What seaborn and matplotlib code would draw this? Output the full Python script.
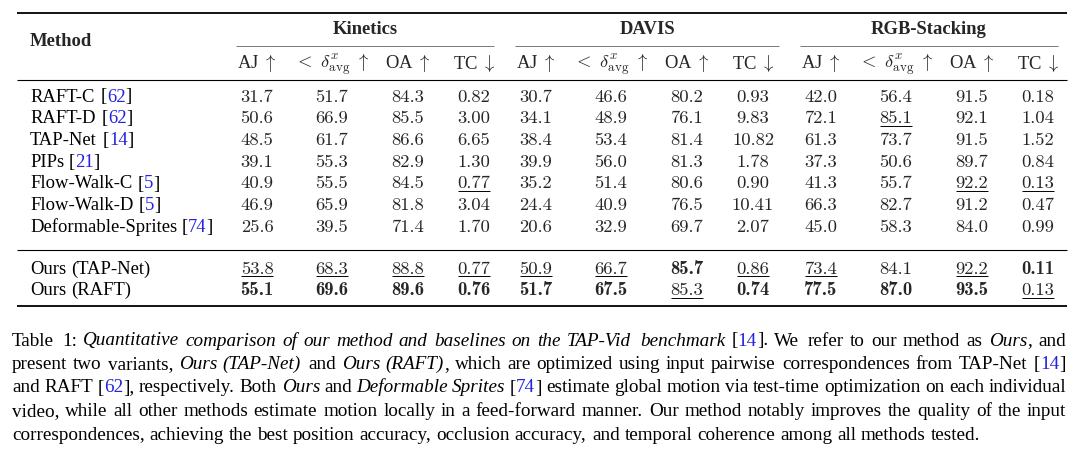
import numpy as np
import pandas as pd
import seaborn as sns
import matplotlib
matplotlib.use("Agg")
import matplotlib.pyplot as plt
from matplotlib.font_manager import FontProperties, findfont, get_font

# ---------------- data ----------------
methods = ["RAFT-C", "RAFT-D", "TAP-Net", "PIPs", "Flow-Walk-C", "Flow-Walk-D",
           "Deformable-Sprites", "Ours (TAP-Net)", "Ours (RAFT)"]
cites = ["62", "62", "14", "21", "5", "5", "74", None, None]
datasets = ["Kinetics", "DAVIS", "RGB-Stacking"]
metric_labels = ["AJ $\\uparrow$", "$<\\ \\delta^{x}_{\\mathrm{avg}}\\ \\uparrow$",
                 "OA $\\uparrow$", "TC $\\downarrow$"]
metric_higher_better = [True, True, True, False]
metric_fmt = ["{:.1f}", "{:.1f}", "{:.1f}", "{:.2f}"]

kinetics_aj = [31.7, 50.6, 48.5, 39.1, 40.9, 46.9, 25.6, 53.8, 55.1]
kinetics_delta = [51.7, 66.9, 61.7, 55.3, 55.5, 65.9, 39.5, 68.3, 69.6]
kinetics_oa = [84.3, 85.5, 86.6, 82.9, 84.5, 81.8, 71.4, 88.8, 89.6]
kinetics_tc = [0.82, 3.00, 6.65, 1.30, 0.77, 3.04, 1.70, 0.77, 0.76]

davis_aj = [30.7, 34.1, 38.4, 39.9, 35.2, 24.4, 20.6, 50.9, 51.7]
davis_delta = [46.6, 48.9, 53.4, 56.0, 51.4, 40.9, 32.9, 66.7, 67.5]
davis_oa = [80.2, 76.1, 81.4, 81.3, 80.6, 76.5, 69.7, 85.7, 85.3]
davis_tc = [0.93, 9.83, 10.82, 1.78, 0.90, 10.41, 2.07, 0.86, 0.74]

rgb_aj = [42.0, 72.1, 61.3, 37.3, 41.3, 66.3, 45.0, 73.4, 77.5]
rgb_delta = [56.4, 85.1, 73.7, 50.6, 55.7, 82.7, 58.3, 84.1, 87.0]
rgb_oa = [91.5, 92.1, 91.5, 89.7, 92.2, 91.2, 84.0, 92.2, 93.5]
rgb_tc = [0.18, 1.04, 1.52, 0.84, 0.13, 0.47, 0.99, 0.11, 0.13]

table = {
    "Kinetics": [kinetics_aj, kinetics_delta, kinetics_oa, kinetics_tc],
    "DAVIS": [davis_aj, davis_delta, davis_oa, davis_tc],
    "RGB-Stacking": [rgb_aj, rgb_delta, rgb_oa, rgb_tc],
}

caption_lines = [
    "Table 1: *Quantitative comparison of our method and baselines on the TAP-Vid benchmark* [{14}]. We refer to our method as *Ours*, and",
    "present two variants, *Ours (TAP-Net)* and *Ours (RAFT)*, which are optimized using input pairwise correspondences from TAP-Net [{14}]",
    "and RAFT [{62}], respectively. Both *Ours* and *Deformable Sprites* [{74}] estimate global motion via test-time optimization on each individual",
    "video, while all other methods estimate motion locally in a feed-forward manner. Our method notably improves the quality of the input",
    "correspondences, achieving the best position accuracy, occlusion accuracy, and temporal coherence among all methods tested.",
]

# ---------------- layout ----------------
W, H = 1080, 454
FS = 13.4
CAP_FS = 13.8
BLUE = "#2323e0"
group_x = [257, 536, 821]
col_off = [0, 75, 151, 217]
cmid_spans = [(236, 494), (515, 779), (800, 1058)]
rule_x = (17, 1067)
method_x = 30
row_y = [101.5, 123.3, 145.0, 166.8, 188.5, 210.3, 232.0, 273.5, 295.0]
y_top, y_cmid, y_mid, y_mid2, y_bot = 12.5, 46.0, 80.0, 250.0, 305.5
y_head1, y_method, y_head2 = 34.5, 46.5, 68.5
cap_x0, cap_x1 = 12, 1066
cap_y = [345.5, 369.0, 392.5, 416.0, 439.5]

sns.set_theme(style="white")
plt.rcParams["font.family"] = ["Liberation Serif", "DejaVu Serif"]
plt.rcParams["mathtext.fontset"] = "cm"

fig = plt.figure(figsize=(W / 100, H / 100), dpi=100)
ax = fig.add_axes([0, 0, 1, 1])
ax.set_xlim(0, W)
ax.set_ylim(H, 0)
ax.axis("off")
sns.despine(ax=ax, left=True, bottom=True)

try:
    from matplotlib.ft2font import LoadFlags
    NO_SCALE = LoadFlags.NO_SCALE
except Exception:
    NO_SCALE = 1
try:
    from matplotlib.ft2font import Kerning
    KERN_UNSCALED = Kerning.UNSCALED
except Exception:
    KERN_UNSCALED = 2

_fonts = {}


def font_for(style, weight):
    key = (style, weight)
    if key not in _fonts:
        path = findfont(FontProperties(family="Liberation Serif", style=style, weight=weight))
        _fonts[key] = get_font(path)
    return _fonts[key]


def adv_width(s, fs, style="normal", weight="normal"):
    f = font_for(style, weight)
    upem = f.units_per_EM
    total = 0.0
    prev = None
    for ch in s:
        g = f.load_char(ord(ch), flags=NO_SCALE)
        total += g.horiAdvance
        idx = f.get_char_index(ord(ch))
        if prev is not None:
            try:
                total += f.get_kerning(prev, idx, KERN_UNSCALED)
            except Exception:
                pass
        prev = idx
    return total / upem * fs * 100.0 / 72.0


def make_words(s):
    words, cur = [], []
    state = {"buf": "", "it": False, "bl": False}

    def flush():
        if state["buf"]:
            cur.append((state["buf"], state["it"], state["bl"]))
            state["buf"] = ""

    for ch in s:
        if ch == "*":
            flush(); state["it"] = not state["it"]
        elif ch == "{":
            flush(); state["bl"] = True
        elif ch == "}":
            flush(); state["bl"] = False
        elif ch == " ":
            flush()
            if cur:
                words.append(list(cur)); cur.clear()
        else:
            state["buf"] += ch
    flush()
    if cur:
        words.append(list(cur))
    return words


def place_words(words, x0, y, fs, width=None, weight="normal"):
    widths = [[adv_width(t, fs, "italic" if it else "normal", weight) for (t, it, bl) in w]
              for w in words]
    space = adv_width(" ", fs)
    total = sum(sum(w) for w in widths)
    gap = space if width is None else (width - total) / max(len(words) - 1, 1)
    x = x0
    for w, ws in zip(words, widths):
        for (t, it, bl), pw in zip(w, ws):
            ax.text(x, y, t, fontsize=fs, style="italic" if it else "normal",
                    color=BLUE if bl else "black", va="baseline", ha="left",
                    fontweight=weight)
            x += pw
        x += gap


# rules
ax.hlines([y_top, y_bot], *rule_x, color="black", lw=1.3)
ax.hlines([y_mid, y_mid2], *rule_x, color="black", lw=0.8)
for (a, b) in cmid_spans:
    ax.hlines(y_cmid, a, b, color="#777777", lw=0.7)

# headers
ax.text(method_x, y_method, "Method", fontsize=FS, fontweight="bold", va="baseline", ha="left")
for g, name in enumerate(datasets):
    a, b = cmid_spans[g]
    ax.text((a + b) / 2, y_head1, name, fontsize=FS, fontweight="bold", va="baseline", ha="center")
    for m, lab in enumerate(metric_labels):
        ax.text(group_x[g] + col_off[m], y_head2, lab, fontsize=FS, va="baseline", ha="center")

# method names
for i, (mname, c) in enumerate(zip(methods, cites)):
    s = mname if c is None else mname + " [{" + c + "}]"
    place_words(make_words(s), method_x, row_y[i], FS)

# numbers
underline_texts = []
for g, name in enumerate(datasets):
    for m in range(4):
        vals = np.array(table[name][m])
        uniq = np.unique(vals)
        if not metric_higher_better[m]:
            best, second = uniq[0], uniq[1]
        else:
            best, second = uniq[-1], uniq[-2]
        for i, v in enumerate(vals):
            is_best = np.isclose(v, best)
            is_second = np.isclose(v, second)
            t = ax.text(group_x[g] + col_off[m], row_y[i], metric_fmt[m].format(v),
                        fontsize=FS, family="cmb10" if is_best else "cmr10",
                        va="baseline", ha="center")
            if is_second:
                underline_texts.append(t)

fig.canvas.draw()
r = fig.canvas.get_renderer()
for t in underline_texts:
    bb = t.get_window_extent(r)
    ax.hlines(t.get_position()[1] + 2.8, bb.x0, bb.x1, color="black", lw=0.7)

# caption
for k, line in enumerate(caption_lines):
    justify = None if k == len(caption_lines) - 1 else cap_x1 - cap_x0
    place_words(make_words(line), cap_x0, cap_y[k], CAP_FS, width=justify)

fig.savefig("out.png", dpi=100, facecolor="white")
